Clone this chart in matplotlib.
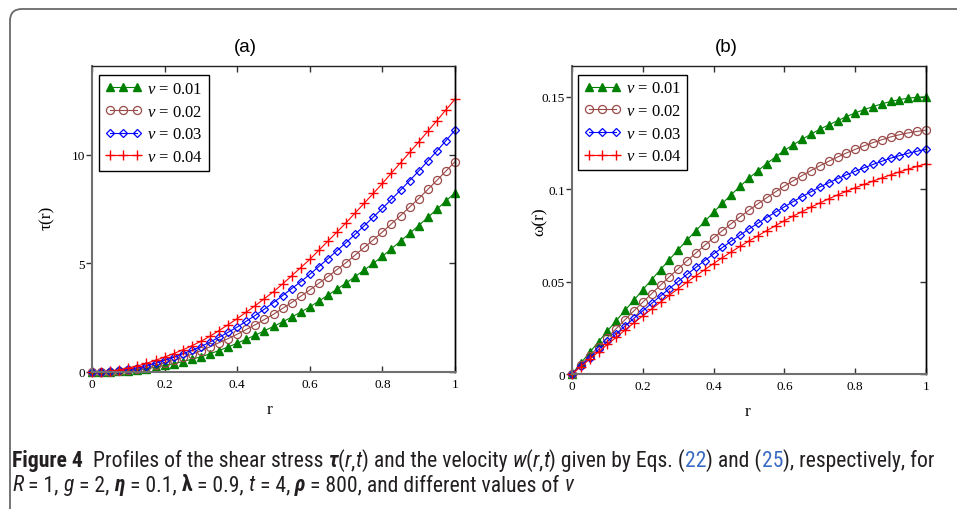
import numpy as np
import matplotlib
matplotlib.use("Agg")
import matplotlib.pyplot as plt
from matplotlib.patches import FancyBboxPatch
from matplotlib.transforms import IdentityTransform
from matplotlib import font_manager

# ---------------- data ----------------
r = np.linspace(0.0, 1.0, 41)
nu_labels = ["0.01", "0.02", "0.03", "0.04"]

tau_nu001 = [0.00, 0.00, 0.01, 0.03, 0.06, 0.10, 0.15, 0.22, 0.30, 0.39, 0.48, 0.59, 0.70,
             0.84, 0.99, 1.15, 1.33, 1.51, 1.70, 1.90, 2.10, 2.31, 2.53, 2.76, 3.00, 3.27,
             3.54, 3.82, 4.10, 4.40, 4.70, 5.01, 5.33, 5.68, 6.03, 6.39, 6.75, 7.12, 7.50,
             7.88, 8.26]
tau_nu002 = [0.00, 0.00, 0.02, 0.05, 0.09, 0.14, 0.21, 0.31, 0.42, 0.54, 0.67, 0.82, 0.98,
             1.16, 1.35, 1.54, 1.74, 1.96, 2.18, 2.42, 2.66, 2.93, 3.20, 3.49, 3.78, 4.09,
             4.40, 4.72, 5.04, 5.39, 5.74, 6.09, 6.45, 6.83, 7.21, 7.60, 7.99, 8.41, 8.83,
             9.26, 9.69]
tau_nu003 = [0.00, 0.01, 0.03, 0.07, 0.12, 0.19, 0.29, 0.40, 0.54, 0.68, 0.84, 1.00, 1.17,
             1.38, 1.60, 1.83, 2.07, 2.34, 2.61, 2.90, 3.20, 3.52, 3.84, 4.16, 4.50, 4.86,
             5.22, 5.59, 5.96, 6.35, 6.74, 7.14, 7.54, 7.96, 8.38, 8.82, 9.26, 9.72, 10.18,
             10.66, 11.14]
tau_nu004 = [0.00, 0.01, 0.04, 0.10, 0.18, 0.28, 0.40, 0.54, 0.69, 0.85, 1.02, 1.21, 1.41,
             1.65, 1.91, 2.18, 2.46, 2.76, 3.06, 3.38, 3.70, 4.06, 4.43, 4.81, 5.19, 5.61,
             6.03, 6.45, 6.88, 7.33, 7.78, 8.23, 8.69, 9.17, 9.64, 10.12, 10.60, 11.09, 11.58,
             12.08, 12.57]

w_nu001 = [0.0000, 0.0059, 0.0117, 0.0175, 0.0233, 0.0289, 0.0345, 0.0400, 0.0456, 0.0511,
           0.0565, 0.0619, 0.0673, 0.0725, 0.0776, 0.0826, 0.0876, 0.0924, 0.0971, 0.1016,
           0.1060, 0.1100, 0.1139, 0.1175, 0.1210, 0.1241, 0.1270, 0.1298, 0.1325, 0.1348,
           0.1371, 0.1393, 0.1413, 0.1431, 0.1447, 0.1462, 0.1475, 0.1485, 0.1493, 0.1498,
           0.1500]
w_nu002 = [0.0000, 0.0050, 0.0099, 0.0148, 0.0197, 0.0246, 0.0294, 0.0342, 0.0389, 0.0435,
           0.0481, 0.0526, 0.0570, 0.0613, 0.0655, 0.0697, 0.0737, 0.0776, 0.0814, 0.0851,
           0.0887, 0.0921, 0.0954, 0.0986, 0.1017, 0.1046, 0.1074, 0.1101, 0.1127, 0.1151,
           0.1174, 0.1196, 0.1216, 0.1235, 0.1252, 0.1268, 0.1283, 0.1295, 0.1305, 0.1313,
           0.1320]
w_nu003 = [0.0000, 0.0045, 0.0089, 0.0133, 0.0176, 0.0218, 0.0260, 0.0301, 0.0342, 0.0382,
           0.0422, 0.0462, 0.0501, 0.0539, 0.0577, 0.0614, 0.0650, 0.0685, 0.0719, 0.0752,
           0.0785, 0.0816, 0.0847, 0.0876, 0.0905, 0.0933, 0.0960, 0.0986, 0.1012, 0.1035,
           0.1057, 0.1078, 0.1097, 0.1116, 0.1134, 0.1151, 0.1168, 0.1182, 0.1195, 0.1206,
           0.1216]
w_nu004 = [0.0000, 0.0040, 0.0080, 0.0120, 0.0160, 0.0199, 0.0238, 0.0277, 0.0315, 0.0352,
           0.0389, 0.0426, 0.0462, 0.0497, 0.0531, 0.0565, 0.0598, 0.0630, 0.0661, 0.0691,
           0.0720, 0.0748, 0.0776, 0.0803, 0.0830, 0.0855, 0.0879, 0.0903, 0.0926, 0.0948,
           0.0969, 0.0989, 0.1008, 0.1026, 0.1044, 0.1061, 0.1078, 0.1094, 0.1109, 0.1124,
           0.1138]

x_ticks = [0, 0.2, 0.4, 0.6, 0.8, 1.0]
x_ticklabels = ["0", "0.2", "0.4", "0.6", "0.8", "1"]
tau_ticks = [0, 5, 10]
tau_ticklabels = ["0", "5", "10"]
w_ticks = [0, 0.05, 0.1, 0.15]
w_ticklabels = ["0", "0.05", "0.1", "0.15"]

# ---------------- styles ----------------
available = {f.name for f in font_manager.fontManager.ttflist}
SERIF = ["Liberation Serif", "DejaVu Serif"]
SANS = ["Liberation Sans", "DejaVu Sans"]
narrow = None
for cand in ["Liberation Sans Narrow", "Roboto Condensed", "Open Sans Condensed",
             "DejaVu Sans Condensed", "Liberation Sans"]:
    if cand in available:
        narrow = cand
        break
CAP = [narrow, "DejaVu Sans"]

plt.rcParams["mathtext.fontset"] = "custom"
plt.rcParams["mathtext.rm"] = "Liberation Serif"
plt.rcParams["mathtext.it"] = "Liberation Serif:italic"
plt.rcParams["mathtext.bf"] = "Liberation Serif:bold"

styles = [
    dict(color="#008000", marker="^", ms=6.0, mfc="#008000", mec="#008000"),
    dict(color="#9a4a48", marker="o", ms=5.8, mfc="none", mec="#9a4a48", mew=0.9),
    dict(color="#0000ff", marker="D", ms=4.0, mfc="none", mec="#0000ff", mew=0.9),
    dict(color="#ff0000", marker="+", ms=7.0, mec="#ff0000", mew=1.0),
]

W, H = 957, 510
fig = plt.figure(figsize=(W / 100, H / 100), dpi=100)
fig.patch.set_facecolor("white")

# outer rounded frame
frame = FancyBboxPatch((10, -30), 1100, H - 10 + 30,
                       boxstyle="round,pad=0,rounding_size=12",
                       transform=IdentityTransform(), facecolor="none",
                       edgecolor="#6a6a6a", linewidth=1.3)
fig.add_artist(frame)


def px_axes(left, top, right, bottom):
    return [left / W, 1 - bottom / H, (right - left) / W, (bottom - top) / H]


def style_axes(ax, yticks, yticklabels, ylim):
    ax.set_xlim(0, 1)
    ax.set_ylim(*ylim)
    ax.set_xticks(x_ticks)
    ax.set_xticklabels(x_ticklabels)
    ax.set_yticks(yticks)
    ax.set_yticklabels(yticklabels)
    ax.tick_params(axis="x", direction="in", top=True, bottom=True, length=4,
                   width=1, pad=4, labelsize=9.5, color="#333333")
    ax.tick_params(axis="y", direction="out", left=True, right=False, length=4,
                   width=1, pad=1, labelsize=9.5, color="#333333")
    for lab in ax.get_xticklabels() + ax.get_yticklabels():
        lab.set_family(SERIF)
    sec = ax.secondary_yaxis("right")
    sec.set_yticks(yticks)
    sec.tick_params(direction="in", length=4, width=1, labelright=False, color="#333333")
    sec.spines["right"].set_color("black")
    sec.spines["right"].set_linewidth(1.0)
    ax.spines["left"].set_color("#707070")
    ax.spines["left"].set_linewidth(1.5)
    ax.spines["bottom"].set_color("#707070")
    ax.spines["bottom"].set_linewidth(1.5)
    ax.spines["top"].set_color("#222222")
    ax.spines["top"].set_linewidth(1.0)
    ax.spines["right"].set_color("black")
    ax.spines["right"].set_linewidth(1.0)


def draw_panel(ax, series):
    for ys, lab, st in zip(series, nu_labels, styles):
        ax.plot(r, ys, lw=0.8, label=r"$\nu$ = " + lab, clip_on=False, **st)


def add_legend(ax, anchor):
    leg = ax.legend(loc="upper left", bbox_to_anchor=anchor, borderaxespad=0,
                    numpoints=3, handlelength=2.2, handletextpad=0.3, borderpad=0.35,
                    labelspacing=0.4, fancybox=False, framealpha=1, edgecolor="black",
                    prop=dict(family=SERIF, size=12))
    leg.get_frame().set_linewidth(1.0)
    return leg


axA = fig.add_axes(px_axes(92, 67, 455, 373))
draw_panel(axA, [tau_nu001, tau_nu002, tau_nu003, tau_nu004])
style_axes(axA, tau_ticks, tau_ticklabels, (0, 14.1))
add_legend(axA, (0.02, 0.97))

axB = fig.add_axes(px_axes(572, 67, 926, 375))
draw_panel(axB, [w_nu001, w_nu002, w_nu003, w_nu004])
style_axes(axB, w_ticks, w_ticklabels, (0, 0.1667))
add_legend(axB, (0.017, 0.972))

# titles and axis labels
fig.text(245 / W, 1 - 47 / H, "(a)", ha="center", va="center", family=SANS, size=13.5)
fig.text(726 / W, 1 - 47 / H, "(b)", ha="center", va="center", family=SANS, size=13.5)
fig.text(270 / W, 1 - 410 / H, "r", ha="center", va="center", family=SERIF, size=12.5)
fig.text(748 / W, 1 - 412 / H, "r", ha="center", va="center", family=SERIF, size=12.5)
fig.text(47 / W, 1 - 218 / H, "τ(r)", ha="center", va="center", rotation=90,
         family=SERIF, size=12.5)
fig.text(540 / W, 1 - 222 / H, "ω(r)", ha="center", va="center", rotation=90,
         family=SERIF, size=12.5)

# ---------------- caption ----------------
TXT = "#231f20"
LINK = "#3a6bc4"
line1 = [("Figure 4", "bold", "normal", TXT),
         ("  Profiles of the shear stress ", "normal", "normal", TXT),
         ("τ", "bold", "italic", TXT), ("(", "normal", "normal", TXT),
         ("r", "normal", "italic", TXT), (",", "normal", "normal", TXT),
         ("t", "normal", "italic", TXT),
         (") and the velocity ", "normal", "normal", TXT),
         ("w", "normal", "italic", TXT), ("(", "normal", "normal", TXT),
         ("r", "normal", "italic", TXT), (",", "normal", "normal", TXT),
         ("t", "normal", "italic", TXT),
         (") given by Eqs. (", "normal", "normal", TXT),
         ("22", "normal", "normal", LINK), (") and (", "normal", "normal", TXT),
         ("25", "normal", "normal", LINK),
         ("), respectively, for", "normal", "normal", TXT)]
line2 = [("R", "normal", "italic", TXT), (" = 1, ", "normal", "normal", TXT),
         ("g", "normal", "italic", TXT), (" = 2, ", "normal", "normal", TXT),
         ("η", "bold", "italic", TXT), (" = 0.1, ", "normal", "normal", TXT),
         ("λ", "bold", "normal", TXT), (" = 0.9, ", "normal", "normal", TXT),
         ("t", "normal", "italic", TXT), (" = 4, ", "normal", "normal", TXT),
         ("ρ", "bold", "italic", TXT),
         (" = 800, and different values of ", "normal", "normal", TXT),
         ("ν", "normal", "italic", TXT)]

renderer = fig.canvas.get_renderer()


def seg_width(s, weight, style, size):
    t1 = fig.text(0, 0, "|" + s + "|", family=CAP, weight=weight, style=style, size=size)
    t2 = fig.text(0, 0, "||", family=CAP, weight=weight, style=style, size=size)
    w = t1.get_window_extent(renderer).width - t2.get_window_extent(renderer).width
    t1.remove()
    t2.remove()
    return w


def line_width(segs, size):
    return sum(seg_width(s, w, st, size) for s, w, st, c in segs)


size = 12.0
target = 934 - 12
lw1 = line_width(line1, size)
size = size * target / lw1


def draw_line(segs, x0, ybase, size):
    x = x0
    for s, w, st, c in segs:
        fig.text(x / W, ybase / H, s, family=CAP, weight=w, style=st, size=size,
                 color=c, ha="left", va="baseline")
        x += seg_width(s, w, st, size)


draw_line(line1, 12, H - 467, size)
draw_line(line2, 12, H - 491, size)

fig.savefig("out.png", dpi=100, facecolor="white")
